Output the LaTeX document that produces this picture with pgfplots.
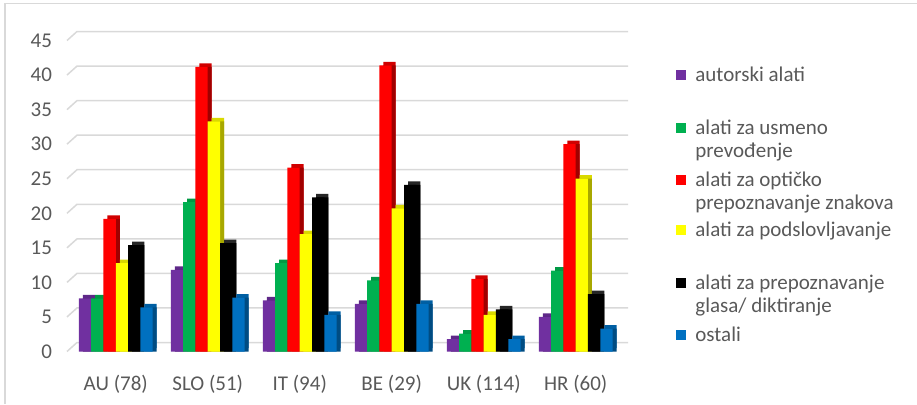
\documentclass[border=0pt]{standalone}
\usepackage{pgfplots}
\pgfplotsset{compat=1.18}
\usepackage{pgfplotstable}
\usepackage{fontspec}
\setmainfont{Carlito}

\definecolor{txt}{HTML}{595959}
\definecolor{gridc}{HTML}{D9D9D9}
\definecolor{cPur}{HTML}{7030A0}\definecolor{sPur}{HTML}{4A1F6B}\definecolor{tPur}{HTML}{5E2888}
\definecolor{cGrn}{HTML}{00B050}\definecolor{sGrn}{HTML}{007535}\definecolor{tGrn}{HTML}{009944}
\definecolor{cRed}{HTML}{FF0000}\definecolor{sRed}{HTML}{A00000}\definecolor{tRed}{HTML}{D00000}
\definecolor{cYel}{HTML}{FFFF00}\definecolor{sYel}{HTML}{A8A800}\definecolor{tYel}{HTML}{D9D900}
\definecolor{cBlk}{HTML}{000000}\definecolor{sBlk}{HTML}{000000}\definecolor{tBlk}{HTML}{262626}
\definecolor{cBlu}{HTML}{0070C0}\definecolor{sBlu}{HTML}{004C82}\definecolor{tBlu}{HTML}{005FA3}

% share of respondents (%) per country group
\pgfplotstableread{
x autorski usmeno opticko podslov glas ostali
0 7.7  7.7  19.2 12.8 15.4 6.4
1 11.8 21.6 41.2 33.3 15.7 7.8
2 7.4  12.8 26.6 17.0 22.3 5.3
3 6.9  10.3 41.4 20.7 24.1 6.9
4 1.8  2.6  10.5 5.3  6.1  1.8
5 5.0  11.7 30.0 25.0 8.3  3.3
}\data

% one pseudo-3D column series: top face, side face, front face
\newcommand{\barset}[5]{%
  \addplot[fill=#5, draw=none, bar shift=#2, xshift=2pt, yshift=1.75pt] table[x=x,y=#1]{\data};
  \addplot[fill=#4, draw=none, bar shift=#2, xshift=2pt] table[x=x,y=#1]{\data};
  \addplot[fill=#3, draw=none, bar shift=#2] table[x=x,y=#1]{\data};
}

\begin{document}
\begin{tikzpicture}
\useasboundingbox (0,0) rectangle (458.5pt,202pt);
\draw[gridc, line width=0.6pt] (2.5pt,0) -- (2.5pt,200.25pt) -- (458.5pt,200.25pt);
\begin{axis}[
  at={(33.5pt,26.25pt)}, anchor=south west,
  scale only axis, width=275.5pt, height=155.5pt,
  ybar, bar width=6.15pt,
  xmin=-0.53, xmax=5.46, ymin=0, ymax=45,
  clip=false,
  axis line style={draw=none}, tick style={draw=none},
  ytick={0,5,...,45},
  xtick={0,...,5},
  xticklabels={AU (78), SLO (51), IT (94), BE (29), UK (114), HR (60)},
  ticklabel style={font=\fontsize{10.5}{12}\selectfont, text=txt},
  /pgf/number format/assume math mode=true,
  yticklabel style={xshift=-4pt},
  xticklabel style={yshift=-4pt},
]
% floor/back-wall gridlines with perspective slant at the left
\pgfplotsinvokeforeach{0,5,10,15,20,25,30,35,40,45}{
  \draw[gridc, line width=0.75pt] (axis cs:-0.53,#1) -- ([xshift=5pt,yshift=4.5pt]axis cs:-0.53,#1) -- ([xshift=5pt,yshift=4.5pt]axis cs:5.46,#1);
}
\barset{autorski}{-15.375pt}{cPur}{sPur}{tPur}
\barset{usmeno}{-9.225pt}{cGrn}{sGrn}{tGrn}
\barset{opticko}{-3.075pt}{cRed}{sRed}{tRed}
\barset{podslov}{3.075pt}{cYel}{sYel}{tYel}
\barset{glas}{9.225pt}{cBlk}{sBlk}{tBlk}
\barset{ostali}{15.375pt}{cBlu}{sBlu}{tBlu}
\end{axis}
% legend
\begin{scope}[every node/.style={anchor=base west, inner sep=0pt, text=txt,
    font=\fontsize{10.5}{12}\selectfont}]
  \foreach \c/\y/\a/\b in {cPur/164.5/autorski alati/{},
                           cGrn/138/alati za usmeno/prevođenje,
                           cRed/112/alati za optičko/prepoznavanje znakova,
                           cYel/87/alati za podslovljavanje/{},
                           cBlk/60.5/alati za prepoznavanje/{glasa/ diktiranje},
                           cBlu/34.5/ostali/{}}{
    \fill[\c] (338pt,\y pt-2.4pt) rectangle (343pt,\y pt+2.4pt);
    \node at (347.5pt,\y pt-3.3pt) {\a};
    \node at (347.5pt,\y pt-14.8pt) {\b};
  }
\end{scope}
\end{tikzpicture}
\end{document}
